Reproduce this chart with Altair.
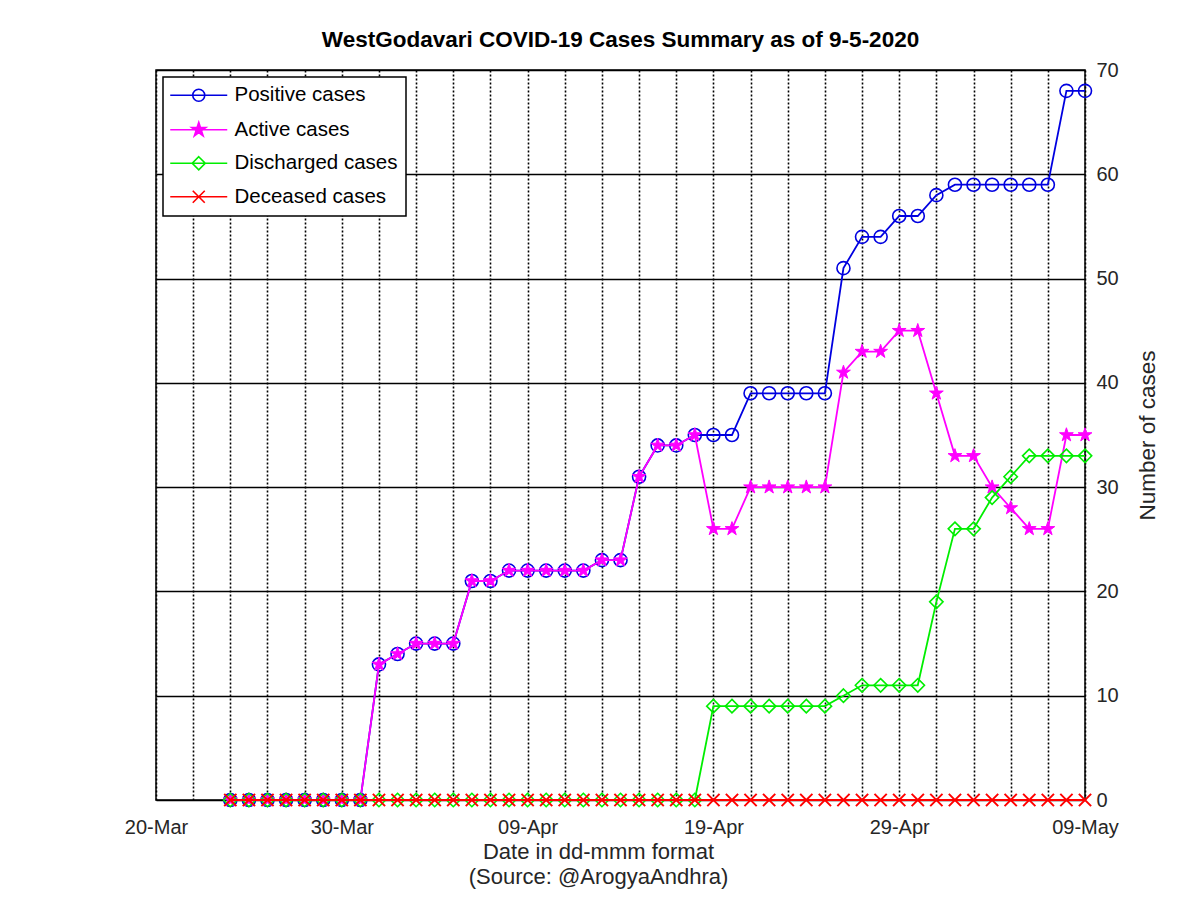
import math
import altair as alt
import pandas as pd

# ---------------- data ----------------
dates = [
    "2020-03-24", "2020-03-25", "2020-03-26", "2020-03-27", "2020-03-28", "2020-03-29",
    "2020-03-30", "2020-03-31", "2020-04-01", "2020-04-02", "2020-04-03", "2020-04-04",
    "2020-04-05", "2020-04-06", "2020-04-07", "2020-04-08", "2020-04-09", "2020-04-10",
    "2020-04-11", "2020-04-12", "2020-04-13", "2020-04-14", "2020-04-15", "2020-04-16",
    "2020-04-17", "2020-04-18", "2020-04-19", "2020-04-20", "2020-04-21", "2020-04-22",
    "2020-04-23", "2020-04-24", "2020-04-25", "2020-04-26", "2020-04-27", "2020-04-28",
    "2020-04-29", "2020-04-30", "2020-05-01", "2020-05-02", "2020-05-03", "2020-05-04",
    "2020-05-05", "2020-05-06", "2020-05-07", "2020-05-08", "2020-05-09",
]
positive = [0, 0, 0, 0, 0, 0, 0, 0,
            13, 14, 15, 15, 15, 21, 21, 22, 22, 22, 22, 22, 23, 23, 31, 34, 34, 35,
            35, 35, 39, 39, 39, 39, 39, 51, 54, 54, 56, 56,
            58, 59, 59, 59, 59, 59, 59, 68, 68]
active = [0, 0, 0, 0, 0, 0, 0, 0,
          13, 14, 15, 15, 15, 21, 21, 22, 22, 22, 22, 22, 23, 23, 31, 34, 34, 35,
          26, 26, 30, 30, 30, 30, 30, 41, 43, 43, 45, 45,
          39, 33, 33, 30, 28, 26, 26, 35, 35]
discharged = [0, 0, 0, 0, 0, 0, 0, 0,
              0, 0, 0, 0, 0, 0, 0, 0, 0, 0, 0, 0, 0, 0, 0, 0, 0, 0,
              9, 9, 9, 9, 9, 9, 9, 10, 11, 11, 11, 11,
              19, 26, 26, 29, 31, 33, 33, 33, 33]
deceased = [0, 0, 0, 0, 0, 0, 0, 0,
            0, 0, 0, 0, 0, 0, 0, 0, 0, 0, 0, 0, 0, 0, 0, 0, 0, 0,
            0, 0, 0, 0, 0, 0, 0, 0, 0, 0, 0, 0,
            0, 0, 0, 0, 0, 0, 0, 0, 0]

series_names = ["Positive cases", "Active cases", "Discharged cases", "Deceased cases"]
series_values = [positive, active, discharged, deceased]
series_colors = ["#0000E0", "#FF00FF", "#00EE00", "#FF0000"]

y_ticks = [0, 10, 20, 30, 40, 50, 60, 70]
x_start, x_end = (2020, 3, 20), (2020, 5, 9)

rows = []
for name, vals in zip(series_names, series_values):
    for d, v in zip(dates, vals):
        rows.append({"date": d, "value": v, "series": name})
df = pd.DataFrame(rows)

# ---------------- marker shapes ----------------
def circle_path(cx, r):
    return f"M{cx+r:.3f},0A{r:.3f},{r:.3f},0,1,1,{cx-r:.3f},0A{r:.3f},{r:.3f},0,1,1,{cx+r:.3f},0Z"

def star_path(cx, R):
    ri = R * 0.382
    pts = []
    for k in range(10):
        ang = math.radians(-90 + 36 * k)
        rr = R if k % 2 == 0 else ri
        pts.append((cx + rr * math.cos(ang), rr * math.sin(ang)))
    return "M" + "L".join(f"{x:.3f},{y:.3f}" for x, y in pts) + "Z"

def diamond_path(cx, r):
    return f"M{cx:.3f},{-r:.3f}L{cx+r:.3f},0L{cx:.3f},{r:.3f}L{cx-r:.3f},0Z"

def cross_path(cx, r):
    return (f"M{cx-r:.3f},{-r:.3f}L{cx+r:.3f},{r:.3f}"
            f"M{cx-r:.3f},{r:.3f}L{cx+r:.3f},{-r:.3f}")

marker_paths = [circle_path(0, 1), star_path(0, 1), diamond_path(0, 1), cross_path(0, 1)]
marker_sizes = [170, 210, 180, 150]
marker_filled = [False, True, False, False]
marker_sw = [1.6, 1.0, 1.6, 2.0]

# legend symbols: line + marker (unit = 7px for size 196)
U = 7.0
lx0, lx1, mc = -11 / U, 46 / U, 17.5 / U
legend_paths = [
    f"M{lx0:.3f},0L{lx1:.3f},0" + circle_path(mc, 6 / U),
    f"M{lx0:.3f},0L{lx1:.3f},0" + star_path(mc, 7.5 / U),
    f"M{lx0:.3f},0L{lx1:.3f},0" + diamond_path(mc, 6.5 / U),
    f"M{lx0:.3f},0L{lx1:.3f},0" + cross_path(mc, 6 / U),
]
legend_fills = ["transparent", "#FF00FF", "transparent", "transparent"]

# ---------------- encodings ----------------
FONT = "Liberation Sans"
grid_dates = pd.date_range("2020-03-20", "2020-05-09", freq="2D")
grid_vals = [alt.DateTime(year=d.year, month=d.month, date=d.day, utc=True) for d in grid_dates]

x_enc = alt.X(
    "date:T",
    scale=alt.Scale(
        type="utc",
        domain=[alt.DateTime(year=x_start[0], month=x_start[1], date=x_start[2], utc=True),
                alt.DateTime(year=x_end[0], month=x_end[1], date=x_end[2], utc=True)],
    ),
    axis=alt.Axis(
        values=grid_vals,
        labelExpr="(round((datum.value - utc(2020,2,20)) / 86400000) % 10 == 0) ? utcFormat(datum.value, '%d-%b') : ''",
        labelOverlap=False,
        labelBound=False,
        labelFlush=False,
        labelFont=FONT, labelFontSize=20, labelColor="#262626", labelPadding=17,
        ticks=False, domain=False,
        grid=True, gridColor="black", gridDash=[2, 2], gridWidth=1.6, gridOpacity=1,
        title=["Date in dd-mmm format", "(Source: @ArogyaAndhra)"],
        titleFont=FONT, titleFontSize=22, titleFontWeight="normal", titleColor="#262626",
        titleLineHeight=25, titlePadding=4, titleX=442,
    ),
)
y_enc = alt.Y(
    "value:Q",
    scale=alt.Scale(domain=[0, 70], nice=False, zero=True),
    axis=alt.Axis(
        orient="right", values=y_ticks, format="d",
        labelFont=FONT, labelFontSize=20, labelColor="#262626", labelPadding=11,
        ticks=False, domain=False,
        grid=True, gridColor="black", gridWidth=1.5, gridOpacity=1,
        title="Number of cases", titleFont=FONT, titleFontSize=22.5,
        titleFontWeight="normal", titleColor="#262626", titlePadding=18,
        titleAngle=270, titleBaseline="top",
    ),
)

layers = []
for i, name in enumerate(series_names):
    sub = alt.Chart(df).transform_filter(alt.datum.series == name)
    line = sub.mark_line(color=series_colors[i], strokeWidth=1.8).encode(x=x_enc, y=y_enc)
    if marker_filled[i]:
        pts = sub.mark_point(shape=marker_paths[i], size=marker_sizes[i], filled=True,
                             fill=series_colors[i], stroke=series_colors[i],
                             strokeWidth=marker_sw[i], opacity=1)
    else:
        pts = sub.mark_point(shape=marker_paths[i], size=marker_sizes[i], filled=False,
                             color=series_colors[i], strokeWidth=marker_sw[i], opacity=1)
    layers += [line, pts.encode(x=x_enc, y=y_enc)]

leg = alt.Legend(
    title=None, orient="none", legendX=7, legendY=7,
    fillColor="white", strokeColor="black",
    padding=8, rowPadding=12.5,
    labelFont=FONT, labelFontSize=20.5, labelColor="black", labelOffset=43, labelLimit=400,
    symbolSize=196, symbolStrokeWidth=1.6, symbolOpacity=1,
)
legend_layer = alt.Chart(df).mark_point(filled=True, opacity=1, size=196).encode(
    x=x_enc, y=y_enc,
    stroke=alt.Stroke("series:N", scale=alt.Scale(domain=series_names, range=series_colors), legend=leg),
    fill=alt.Fill("series:N", scale=alt.Scale(domain=series_names, range=legend_fills), legend=leg),
    shape=alt.Shape("series:N", scale=alt.Scale(domain=series_names, range=legend_paths), legend=leg),
).transform_filter("false")

chart = alt.layer(*layers, legend_layer).properties(
    width=929, height=730,
    autosize=alt.AutoSizeParams(type="none"),
    padding={"left": 148, "top": 62, "right": 100, "bottom": 90},
    title=alt.TitleParams(
        "WestGodavari COVID-19 Cases Summary as of 9-5-2020",
        font=FONT, fontSize=22.5, fontWeight="bold", color="black", anchor="middle", offset=9,
    ),
).configure_view(stroke="black", strokeWidth=1.5).configure_legend(strokeWidth=1.5)

chart.save("out.html", embed_options={"renderer": "svg", "actions": False})
